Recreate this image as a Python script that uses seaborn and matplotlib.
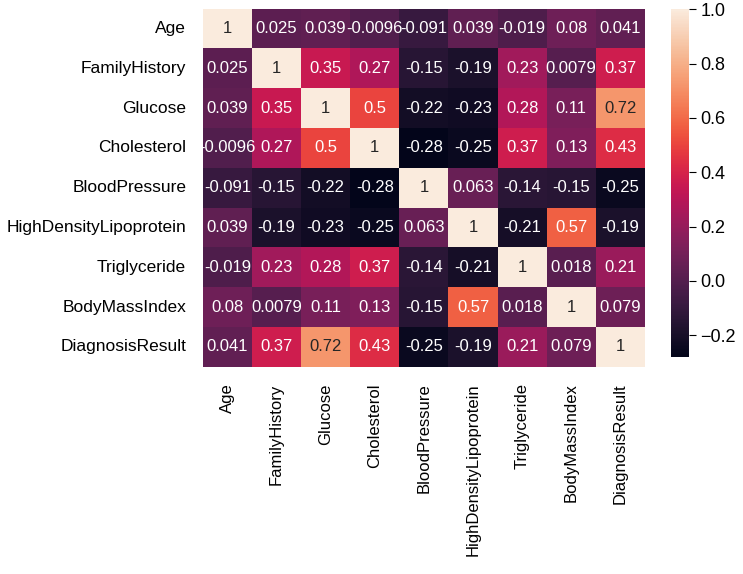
import numpy as np
import pandas as pd
import seaborn as sns
import matplotlib.pyplot as plt

labels = ["Age", "FamilyHistory", "Glucose", "Cholesterol", "BloodPressure",
          "HighDensityLipoprotein", "Triglyceride", "BodyMassIndex", "DiagnosisResult"]

age = [1, 0.025, 0.039, -0.0096, -0.091, 0.039, -0.019, 0.08, 0.041]
family_history = [0.025, 1, 0.35, 0.27, -0.15, -0.19, 0.23, 0.0079, 0.37]
glucose = [0.039, 0.35, 1, 0.5, -0.22, -0.23, 0.28, 0.11, 0.72]
cholesterol = [-0.0096, 0.27, 0.5, 1, -0.28, -0.25, 0.37, 0.13, 0.43]
blood_pressure = [-0.091, -0.15, -0.22, -0.28, 1, 0.063, -0.14, -0.15, -0.25]
hdl = [0.039, -0.19, -0.23, -0.25, 0.063, 1, -0.21, 0.57, -0.19]
triglyceride = [-0.019, 0.23, 0.28, 0.37, -0.14, -0.21, 1, 0.018, 0.21]
bmi = [0.08, 0.0079, 0.11, 0.13, -0.15, 0.57, 0.018, 1, 0.079]
diagnosis = [0.041, 0.37, 0.72, 0.43, -0.25, -0.19, 0.21, 0.079, 1]

corr = pd.DataFrame([age, family_history, glucose, cholesterol, blood_pressure,
                     hdl, triglyceride, bmi, diagnosis], index=labels, columns=labels)

plt.rcParams['font.family'] = ['Liberation Sans', 'DejaVu Sans']

fig = plt.figure(figsize=(7.43, 5.74), dpi=100)
ax = fig.add_axes([0.273, 0.361, 0.595, 0.624])
cax = fig.add_axes([0.903, 0.378, 0.024, 0.606])

sns.heatmap(corr, annot=True, ax=ax, cbar_ax=cax, annot_kws={"size": 12})
ax.set_xticklabels(labels, rotation=90)
ax.set_yticklabels(labels, rotation=0)
ax.tick_params(axis='y', labelsize=12.5, length=0, pad=12)
ax.tick_params(axis='x', labelsize=12, length=0, pad=12)
cax.tick_params(labelsize=13, length=5)

fig.savefig("out.png", dpi=100)
